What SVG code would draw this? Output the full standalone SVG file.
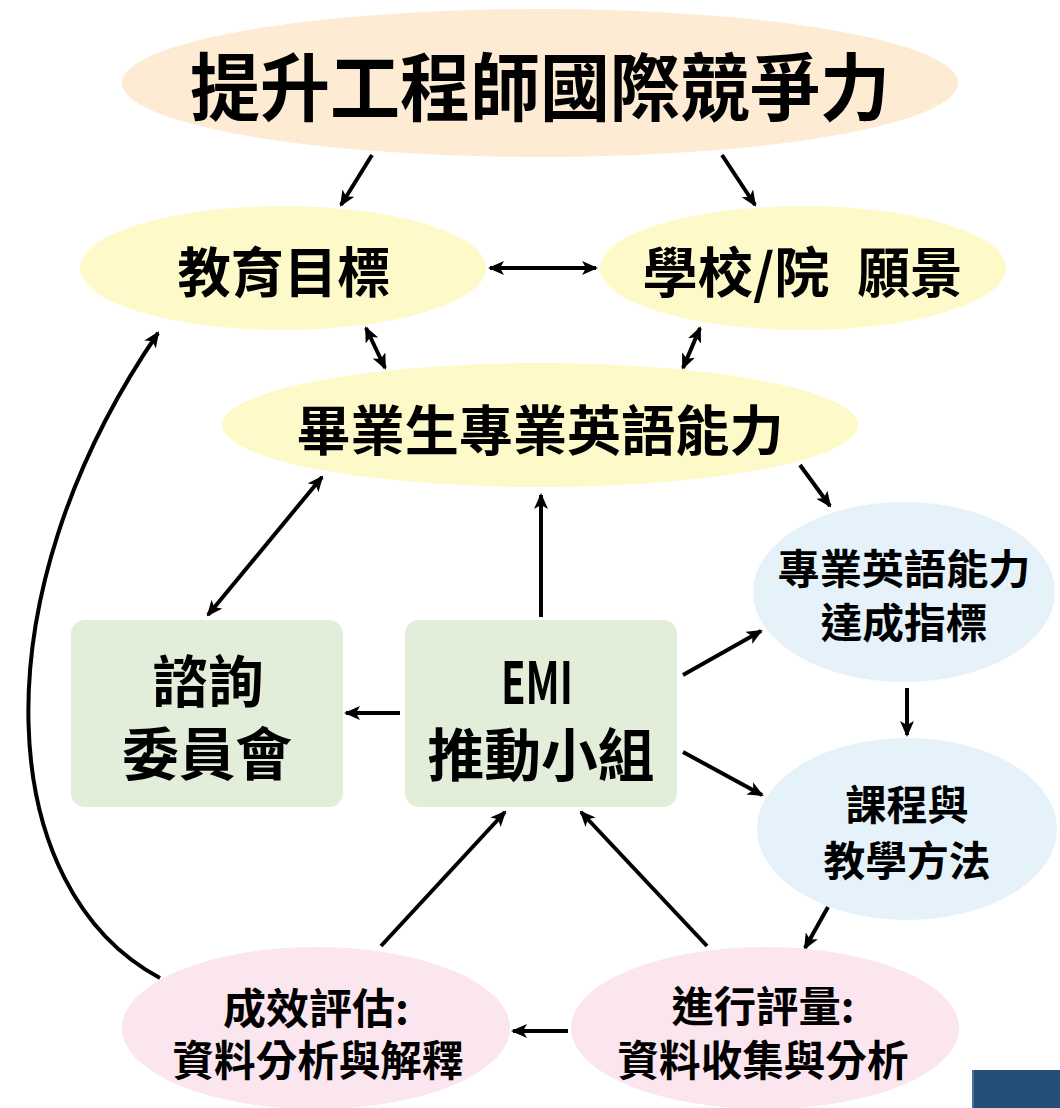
<svg xmlns="http://www.w3.org/2000/svg" width="1060" height="1108" viewBox="0 0 1060 1108">
<defs>
<marker id="ah" viewBox="0 0 16 14" refX="14" refY="7" markerWidth="16" markerHeight="14" markerUnits="userSpaceOnUse" orient="auto-start-reverse">
<path d="M0,0 L16,7 L0,14 L4,7 z" fill="#000"/>
</marker>
</defs>
<style>
text{font-family:"Noto Sans CJK TC","Noto Sans CJK SC",sans-serif;font-weight:700;fill:#000;text-anchor:middle;dominant-baseline:central}
.c{stroke:#000;stroke-width:4;fill:none}
.a{marker-end:url(#ah)}
.b{marker-start:url(#ah);marker-end:url(#ah)}
.peach{fill:#fdebd3}
.yel{fill:#fef9c8}
.blue{fill:#e5f2fa}
.green{fill:#e2eed9}
.pink{fill:#fbe5ee}
</style>
<rect width="1060" height="1108" fill="#fff"/>
<g id="connectors">
<line class="c a" x1="372" y1="155" x2="341" y2="205"/>
<line class="c a" x1="722" y1="155" x2="755" y2="205"/>
<line class="c b" x1="490" y1="268" x2="596" y2="268"/>
<line class="c b" x1="366" y1="328" x2="385" y2="368"/>
<line class="c b" x1="700" y1="328" x2="683" y2="368"/>
<line class="c a" x1="800" y1="465" x2="830" y2="506"/>
<line class="c b" x1="322" y1="477" x2="208" y2="615"/>
<line class="c a" x1="541" y1="617" x2="541" y2="495"/>
<line class="c a" x1="400" y1="713" x2="346" y2="713"/>
<line class="c a" x1="683" y1="675" x2="761" y2="631"/>
<line class="c a" x1="683" y1="752" x2="762" y2="795"/>
<line class="c a" x1="907" y1="688" x2="907" y2="735"/>
<line class="c a" x1="828" y1="907" x2="805" y2="948"/>
<line class="c a" x1="568" y1="1031" x2="513" y2="1031"/>
<line class="c a" x1="381" y1="946" x2="505" y2="812"/>
<line class="c a" x1="707" y1="946" x2="581" y2="812"/>
<path class="c a" d="M160,978 C-5,890 -25,600 158,333"/>
</g>
<g id="n-top">
<ellipse class="peach" cx="540" cy="83" rx="418" ry="74"/>
<text x="540" y="82" font-size="74" textLength="700" lengthAdjust="spacingAndGlyphs">提升工程師國際競爭力</text>
</g>
<g id="n-goal">
<ellipse class="yel" cx="283" cy="268" rx="203" ry="62"/>
<text x="284" y="269" font-size="54" textLength="213" lengthAdjust="spacingAndGlyphs">教育目標</text>
</g>
<g id="n-vision">
<ellipse class="yel" cx="803" cy="268" rx="203" ry="62"/>
<text x="736" y="269" font-size="54" textLength="187" lengthAdjust="spacingAndGlyphs">學校/院</text>
<text x="910" y="269" font-size="54" textLength="105" lengthAdjust="spacingAndGlyphs">願景</text>
</g>
<g id="n-grad">
<ellipse class="yel" cx="540" cy="425" rx="318" ry="62"/>
<text x="540" y="427" font-size="54" textLength="487" lengthAdjust="spacingAndGlyphs">畢業生專業英語能力</text>
</g>
<g id="n-index">
<ellipse class="blue" cx="904" cy="592" rx="151" ry="90"/>
<text x="904" y="566" font-size="41" textLength="253" lengthAdjust="spacingAndGlyphs">專業英語能力</text>
<text x="904" y="620" font-size="41" textLength="167" lengthAdjust="spacingAndGlyphs">達成指標</text>
</g>
<g id="n-advisory">
<rect class="green" x="71" y="620" width="272" height="187" rx="14"/>
<text x="208" y="677" font-size="56" textLength="111" lengthAdjust="spacingAndGlyphs">諮詢</text>
<text x="207" y="750" font-size="57" textLength="170" lengthAdjust="spacingAndGlyphs">委員會</text>
</g>
<g id="n-emi">
<rect class="green" x="405" y="620" width="272" height="187" rx="14"/>
<text x="537" y="679" font-size="58" textLength="72" lengthAdjust="spacingAndGlyphs">EMI</text>
<text x="541" y="751" font-size="57" textLength="227" lengthAdjust="spacingAndGlyphs">推動小組</text>
</g>
<g id="n-course">
<ellipse class="blue" cx="907" cy="829" rx="150" ry="91"/>
<text x="907" y="802" font-size="41" textLength="123" lengthAdjust="spacingAndGlyphs">課程與</text>
<text x="907" y="858" font-size="41" textLength="167" lengthAdjust="spacingAndGlyphs">教學方法</text>
</g>
<g id="n-assess">
<ellipse class="pink" cx="765" cy="1028" rx="194" ry="81"/>
<text x="763" y="1003" font-size="42" textLength="183" lengthAdjust="spacingAndGlyphs">進行評量:</text>
<text x="763" y="1057" font-size="42" textLength="291" lengthAdjust="spacingAndGlyphs">資料收集與分析</text>
</g>
<g id="n-eval">
<ellipse class="pink" cx="316" cy="1028" rx="194" ry="81"/>
<text x="316" y="1005" font-size="42" textLength="186" lengthAdjust="spacingAndGlyphs">成效評估:</text>
<text x="318" y="1057" font-size="42" textLength="291" lengthAdjust="spacingAndGlyphs">資料分析與解釋</text>
</g>
<rect x="972" y="1070" width="88" height="38" fill="#234f77"/>
<rect x="972" y="1070" width="2" height="38" fill="#4a6fa0"/>
</svg>
